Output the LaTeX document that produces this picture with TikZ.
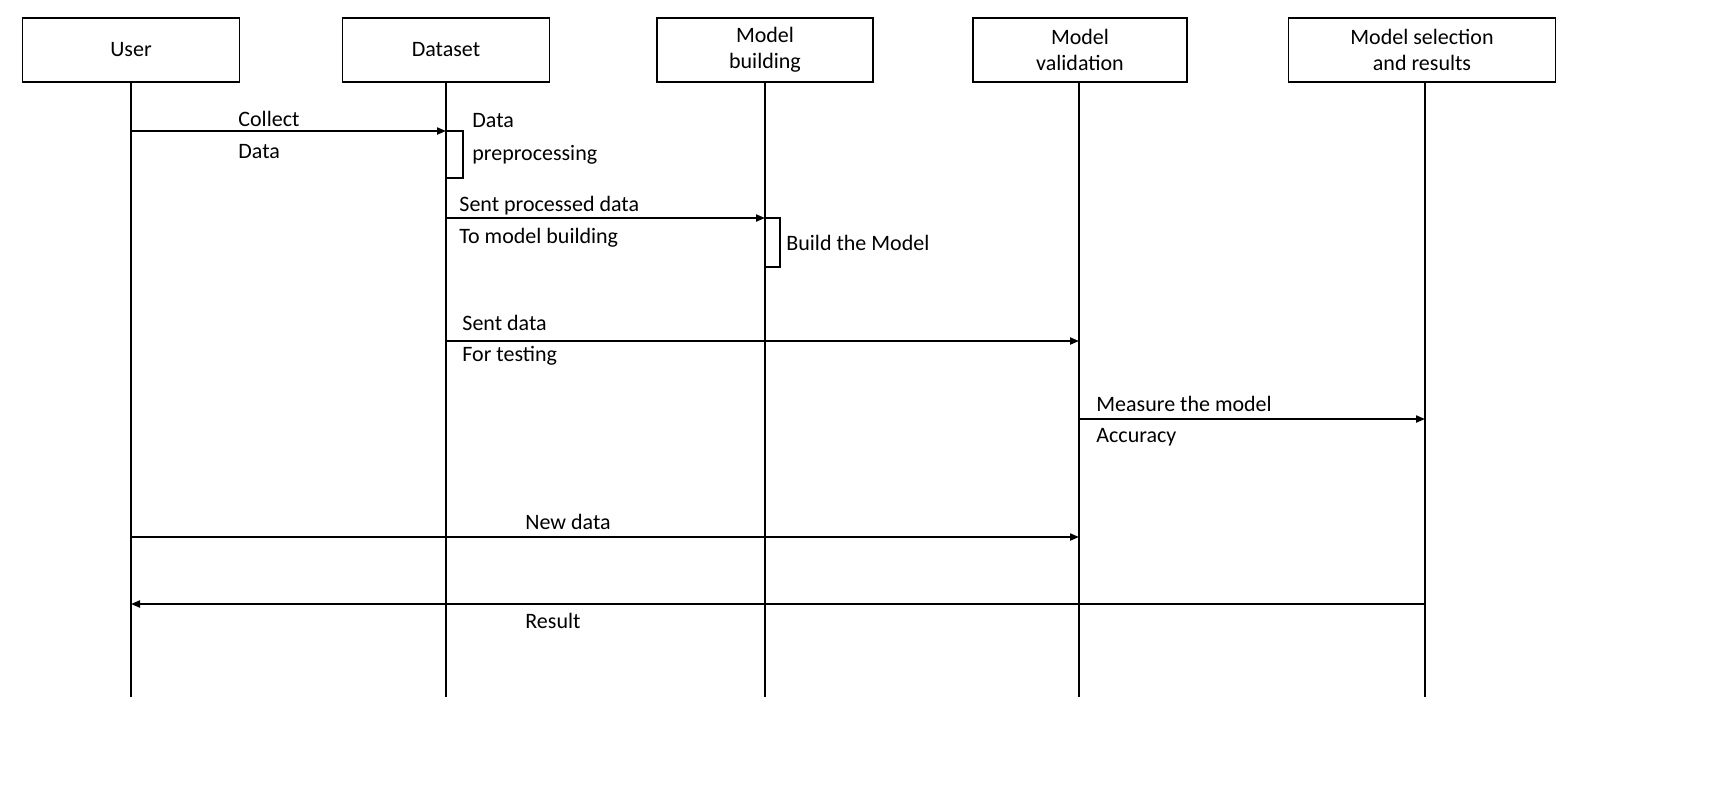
\documentclass[tikz,border=0pt]{standalone}
\usepackage{fontspec}
\setmainfont{Carlito}
\usetikzlibrary{arrows.meta}
\begin{document}
\begin{tikzpicture}[x=0.5pt,y=-0.5pt,
  box/.style={draw,line width=0.6pt,minimum width=#1,minimum height=32pt,align=center,inner sep=1pt,font=\fontsize{11}{13}\selectfont},
  life/.style={line width=0.6pt},
  msg/.style={line width=1pt,-{Triangle[length=4.5pt,width=3.5pt]}},
  act/.style={draw,line width=0.6pt,fill=white},
  lbl/.style={anchor=west,font=\fontsize{11}{13}\selectfont,inner sep=0pt}]
\useasboundingbox (0,0) rectangle (1711,789);
\node[box=108.5pt] (u) at (131,50) {User};
\node[box=103.5pt] (d) at (446,50) {Dataset};
\node[box=108pt] (b) at (765,50) {Model\\building};
\node[box=107pt] (v) at (1080,50) {Model\\validation};
\node[box=133.5pt] (s) at (1422,50) {Model selection\\and results};
\foreach \n/\x in {u/131,d/446,b/765,v/1079,s/1425}{
  \coordinate (\n e) at (\x,697);
  \draw[life] (\n.south -| \n e) -- (\n e);}
\coordinate (a1) at (446,131); \coordinate (a2) at (765,218);
\coordinate (a3) at (1079,341); \coordinate (a4) at (1425,419);
\coordinate (a5) at (1079,537); \coordinate (u5) at (131,537);
\coordinate (u1) at (131,131); \coordinate (d2) at (446,218);
\coordinate (d3) at (446,341); \coordinate (v4) at (1079,419);
\coordinate (s6) at (1425,604); \coordinate (u6) at (131,604);
\draw[act] (446,131) rectangle (463,178);
\draw[act] (765,218) rectangle (780,267);
\draw[msg] (u1) -- (a1);
\draw[msg] (d2) -- (a2);
\draw[msg] (d3) -- (a3);
\draw[msg] (v4) -- (a4);
\draw[msg] (u5) -- (a5);
\draw[msg] (s6) -- (u6);
\node[lbl] (t1) at (238,119) {Collect};
\node[lbl] (t2) at (238,152) {Data};
\node[lbl] (t3) at (472,121) {Data};
\node[lbl] (t4) at (472,155) {preprocessing};
\node[lbl] (t5) at (459,206) {Sent processed data};
\node[lbl] (t6) at (459,238) {To model building};
\node[lbl] (t7) at (786,243) {Build the Model};
\node[lbl] (t8) at (462,323) {Sent data};
\node[lbl] (t9) at (462,356) {For testing};
\node[lbl] (t10) at (1096,404) {Measure the model};
\node[lbl] (t11) at (1096,437) {Accuracy};
\node[lbl] (t12) at (525,522) {New data};
\node[lbl] (t13) at (525,621) {Result};
\end{tikzpicture}
\end{document}
